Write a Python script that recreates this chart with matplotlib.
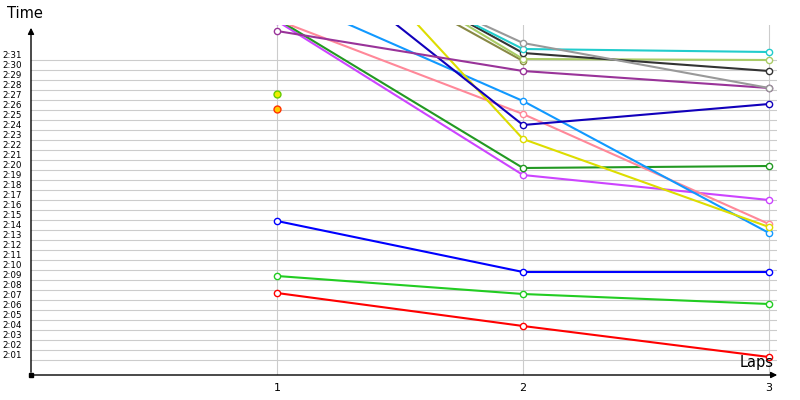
import numpy as np
import matplotlib
matplotlib.use('Agg')
import matplotlib.pyplot as plt
from matplotlib.transforms import ScaledTranslation

# lap times in seconds (2:31 = 151), NaN = no time
laps = [1, 2, 3]
red = [127.7, 124.4, 121.3]
lime = [129.4, 127.6, 126.6]
blue = [134.9, 129.8, 129.8]
violet = [154.9, 139.5, 137.0]
forest = [155.1, 140.2, 140.4]
pink = [155.0, 145.6, 134.6]
sky = [157.7, 146.9, 133.7]
yellow = [169.8, 143.1, 134.3]
navy = [164.0, 144.5, 146.6]
purple = [153.9, 149.9, 148.2]
olive = [164.5, 150.9, np.nan]
yellowgreen = [165.9, 151.1, 151.0]
black = [165.2, 151.7, 149.9]
cyan = [164.5, 152.1, 151.8]
grey = [164.0, 152.7, 148.2]
single_a = 147.6
single_b = 146.1

series = [
    (red, '#ff0000'), (lime, '#22cc22'), (blue, '#0000ff'),
    (violet, '#cc44ff'), (forest, '#229922'), (pink, '#ff8899'),
    (sky, '#1199ff'), (yellow, '#dddd00'), (navy, '#1100bb'),
    (purple, '#993399'), (olive, '#888844'), (yellowgreen, '#aacc66'),
    (black, '#333333'), (cyan, '#22cccc'), (grey, '#999999'),
]

y_ticks = list(range(121, 152))
y_labels = ['%d:%02d' % (s // 60, s % 60) for s in y_ticks]


def main():
    plt.rcParams['font.family'] = ['DejaVu Sans']
    fig = plt.figure(figsize=(8, 4), dpi=100)
    ax = fig.add_axes([31 / 800, 25 / 400, 746 / 800, 350 / 400])
    ax.set_xlim(0, 746 / 246)
    ax.set_ylim(119.5, 154.5)

    for vals, col in series:
        ax.plot(laps, vals, color=col, lw=1.5, marker='o', ms=4.5,
                mfc='white', mec=col, mew=1)
    ax.plot([1], [single_a], marker='o', ms=5, mfc='#eeee00', mec='#66cc00', mew=1, ls='none')
    ax.plot([1], [single_b], marker='o', ms=5, mfc='#ffcc00', mec='#ff3300', mew=1, ls='none')

    for s in ['top', 'right', 'left', 'bottom']:
        ax.spines[s].set_visible(False)

    ax.set_xticks(laps)
    ax.set_xticklabels(['1', '2', '3'], fontsize=8)
    ax.set_yticks(y_ticks)
    ax.set_yticklabels(y_labels, fontsize=6.3)
    ax.tick_params(axis='both', length=0)
    ax.tick_params(axis='x', pad=6)
    ax.tick_params(axis='y', pad=6.5)
    offset = ScaledTranslation(0, 5 / 100, fig.dpi_scale_trans)
    for lab in ax.get_yticklabels():
        lab.set_transform(lab.get_transform() + offset)
    ax.grid(True, color='#cccccc', lw=0.8)
    ax.set_axisbelow(True)

    # axes with arrows
    ax.annotate('', xy=(1.004, 0), xytext=(0, 0), xycoords='axes fraction',
                arrowprops=dict(arrowstyle='-|>', color='black', lw=1, mutation_scale=9))
    ax.annotate('', xy=(0, 1.0), xytext=(0, 0), xycoords='axes fraction',
                arrowprops=dict(arrowstyle='-|>', color='black', lw=1, mutation_scale=9))
    ax.plot([0], [119.5], marker='s', ms=2.5, color='black', clip_on=False)

    fig.text(7 / 800, 1 - 14 / 400, 'Time', fontsize=10.5, va='center', ha='left')
    fig.text(774 / 800, 1 - 363 / 400, 'Laps', fontsize=10.5, va='center', ha='right')

    fig.savefig('out.png', dpi=100)


if __name__ == '__main__':
    main()
